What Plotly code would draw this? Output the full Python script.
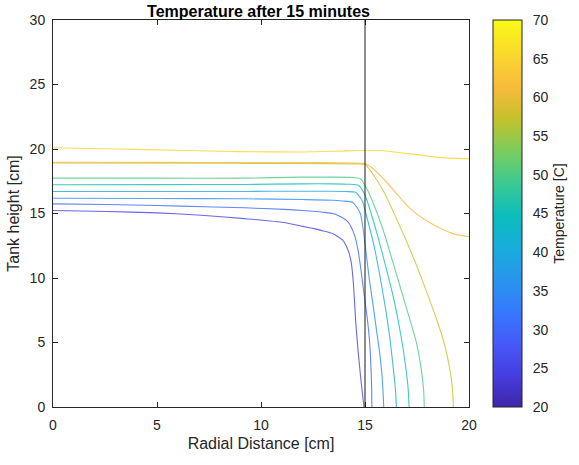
import plotly.graph_objects as go
from plotly.colors import sample_colorscale

# ---------------- data ----------------
levels = [25, 30, 35, 40, 45, 50, 58, 61, 65]   # contour temperatures [C]
cmin, cmax = 20, 70
wall_r = 15                                   # vertical wall line [cm]

r_T25 = [0, 2.6, 5.0, 7.3, 9.2, 11.1, 12.0, 12.5, 13.0, 13.44, 13.7, 13.92, 14.06, 14.2, 14.34, 14.45, 14.55, 14.67, 14.81, 14.95]
z_T25 = [15.23, 15.15, 15.05, 14.85, 14.6, 14.3, 14.0, 13.85, 13.65, 13.45, 13.2, 12.95, 12.6, 12.1, 11.2, 9.4, 6.7, 4.3, 2.0, 0]

r_T30 = [0, 2.6, 5.0, 7.3, 9.2, 11.1, 12.03, 12.97, 13.58, 14.15, 14.48, 14.67, 14.81, 14.95, 15.1, 15.22, 15.29, 15.32, 15.33]
z_T30 = [15.75, 15.7, 15.62, 15.52, 15.44, 15.32, 15.23, 15.1, 14.95, 14.4, 13.4, 12.12, 10.57, 8.8, 7.0, 5.1, 3.0, 1.5, 0]

r_T35 = [0, 5.0, 9.2, 12.03, 13.44, 13.92, 14.39, 14.6, 14.78, 14.92, 15.05, 15.2, 15.38, 15.55, 15.72, 15.84, 15.9]
z_T35 = [16.18, 16.16, 16.14, 16.08, 16.03, 15.97, 15.87, 15.5, 14.97, 13.7, 12.0, 10.0, 8.0, 6.0, 4.0, 2.0, 0]

r_T40 = [0, 5.0, 9.2, 12.03, 13.44, 14.1, 14.54, 14.86, 15.09, 15.41, 15.68, 15.95, 16.19, 16.36, 16.46, 16.51]
z_T40 = [16.71, 16.71, 16.71, 16.73, 16.72, 16.7, 16.65, 16.01, 14.71, 12.67, 10.5, 8.0, 5.4, 3.0, 1.4, 0]

r_T45 = [0, 5.0, 9.2, 12.03, 13.44, 14.2, 14.7, 15.01, 15.25, 15.62, 15.98, 16.38, 16.72, 16.95, 17.07, 17.12]
z_T45 = [17.23, 17.24, 17.25, 17.3, 17.3, 17.27, 17.17, 16.39, 15.23, 13.2, 11.0, 8.4, 5.6, 3.2, 1.5, 0]

r_T50 = [0, 5.0, 9.2, 12.03, 13.44, 14.3, 14.78, 15.09, 15.41, 15.88, 16.4, 16.95, 17.45, 17.7, 17.82, 17.85]
z_T50 = [17.74, 17.74, 17.74, 17.82, 17.82, 17.8, 17.69, 16.92, 15.75, 13.68, 10.9, 7.9, 5.13, 3.0, 1.3, 0]

r_T58 = [0, 5.0, 10.0, 13.0, 14.5, 15.0, 15.4, 15.9, 16.4, 16.9, 17.4, 17.9, 18.4, 18.8, 19.07, 19.2, 19.25]
z_T58 = [18.92, 18.9, 18.88, 18.87, 18.85, 18.8, 18.0, 16.7, 15.0, 13.2, 11.3, 9.2, 7.0, 5.0, 3.0, 1.5, 0]

r_T61 = [0, 5.0, 10.0, 13.0, 14.5, 15.0, 15.33, 16.0, 16.7, 17.3, 18.0, 18.7, 19.3, 20.0]
z_T61 = [18.97, 18.96, 18.95, 18.94, 18.92, 18.88, 18.55, 17.5, 16.2, 15.2, 14.4, 13.8, 13.4, 13.2]

r_T65 = [0, 3, 6, 9, 12, 13.5, 15, 15.8, 16.5, 17.3, 18.0, 18.7, 19.3, 20]
z_T65 = [20.1, 20.0, 19.9, 19.8, 19.77, 19.82, 19.9, 19.88, 19.75, 19.6, 19.45, 19.33, 19.27, 19.25]

x_ticks = [0, 5, 10, 15, 20]
y_ticks = [0, 5, 10, 15, 20, 25, 30]
cbar_ticks = [20, 25, 30, 35, 40, 45, 50, 55, 60, 65, 70]

# ---------------- styling ----------------
parula = [
    [0 / 63, "#3e26a8"], [5 / 63, "#463cde"], [10 / 63, "#4758f8"], [15 / 63, "#3875fe"],
    [20 / 63, "#2b91ef"], [26 / 63, "#18addb"], [31 / 63, "#0bbdbd"], [36 / 63, "#37c897"],
    [41 / 63, "#72cd64"], [47 / 63, "#c5c22a"], [52 / 63, "#f8ba3d"], [57 / 63, "#fad62d"],
    [63 / 63, "#f9fb15"],
]
FONT = "Liberation Sans, Arial, sans-serif"
INK = "#262626"

lines_r = [r_T25, r_T30, r_T35, r_T40, r_T45, r_T50, r_T58, r_T61, r_T65]
lines_z = [z_T25, z_T30, z_T35, z_T40, z_T45, z_T50, z_T58, z_T61, z_T65]
line_colors = sample_colorscale(parula, [(t - cmin) / (cmax - cmin) for t in levels])

fig = go.Figure()
for r, z, c, t in zip(lines_r, lines_z, line_colors, levels):
    fig.add_trace(go.Scatter(
        x=r, y=z, mode="lines", name=f"{t} C", opacity=0.8,
        line=dict(color=c, width=1.1, shape="spline", smoothing=0.6),
        hoverinfo="skip", showlegend=False,
    ))

# colorbar carrier
fig.add_trace(go.Scatter(
    x=[None], y=[None], mode="markers", showlegend=False, hoverinfo="skip",
    marker=dict(
        color=[cmin, cmax], cmin=cmin, cmax=cmax, colorscale=parula, showscale=True,
        colorbar=dict(
            x=(493 - 48) / 421, xanchor="left", xpad=0, ypad=0,
            y=0.5, yanchor="middle", lenmode="fraction", len=1.0,
            thickness=29, outlinecolor=INK, outlinewidth=1,
            tickvals=cbar_ticks, ticks="outside", ticklen=8, tickcolor="rgba(0,0,0,0)",
            tickfont=dict(family=FONT, size=14, color=INK),
            title=dict(text="Temperature [C]", side="right",
                       font=dict(family=FONT, size=14, color=INK)),
        ),
    ),
))

fig.add_vline(x=wall_r, line_color="#1a1a1a", line_width=1)

axis_common = dict(
    showline=True, linecolor=INK, linewidth=1, mirror="ticks",
    ticks="inside", ticklen=5, tickcolor=INK, showgrid=False, zeroline=False,
    tickfont=dict(family=FONT, size=14, color=INK),
)
fig.update_xaxes(range=[0, 20], tickvals=x_ticks, ticklabelstandoff=5,
                 title=dict(text="Radial Distance [cm]", font=dict(family=FONT, size=16, color=INK), standoff=6),
                 **axis_common)
fig.update_yaxes(range=[0, 30], tickvals=y_ticks, ticklabelstandoff=4,
                 title=dict(text="Tank height [cm]", font=dict(family=FONT, size=16, color=INK), standoff=6),
                 **axis_common)

fig.update_layout(
    width=579, height=465,
    margin=dict(l=48, r=110, t=20, b=58),
    plot_bgcolor="white", paper_bgcolor="white",
    font=dict(family=FONT, size=14, color=INK),
    title=dict(text="<b>Temperature after 15 minutes</b>", x=(48 + 469) / 2 / 579, xanchor="center",
               y=1 - 11 / 465, yanchor="middle", yref="container",
               font=dict(family=FONT, size=16, color="#000000")),
    showlegend=False,
)

fig.write_html("out.html")
